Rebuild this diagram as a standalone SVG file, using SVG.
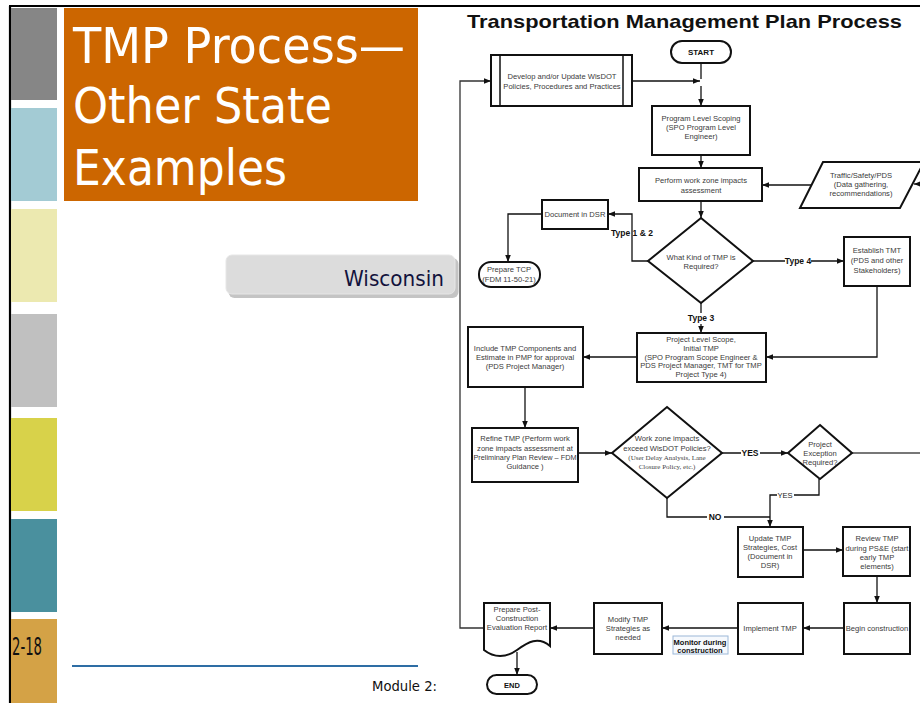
<svg xmlns="http://www.w3.org/2000/svg" width="920" height="703" viewBox="0 0 920 703">
<style>
.bx{fill:#fff;stroke:#111;stroke-width:2}
.t{font-family:"Liberation Sans",Arial,sans-serif;font-size:7.6px;fill:#3a3a3a;text-anchor:middle}
.ts{font-family:"Liberation Serif","Times New Roman",serif;font-size:7px;fill:#444;text-anchor:middle}
.lb{font-family:"Liberation Sans",Arial,sans-serif;font-size:8.5px;font-weight:bold;fill:#111;text-anchor:middle}
.c{fill:none;stroke:#111;stroke-width:1.3}
.ttl{font-family:"DejaVu Sans",Tahoma,sans-serif;font-size:50px;fill:#fff}
</style>
<defs>
<marker id="ah" viewBox="0 0 10 10" refX="10" refY="5" markerWidth="7" markerHeight="7" orient="auto" markerUnits="userSpaceOnUse"><path d="M0,1 L10,5 L0,9 z" fill="#111"/></marker>
</defs>
<rect width="920" height="703" fill="#fff"/>
<g id="frame">
<line x1="9" y1="6" x2="920" y2="6" stroke="#000" stroke-width="2"/>
<line x1="10" y1="6" x2="10" y2="703" stroke="#000" stroke-width="2.2"/>
<rect x="11" y="8" width="46" height="92" fill="#868686"/>
<rect x="11" y="108" width="46" height="93" fill="#a3cbd4"/>
<rect x="11" y="209" width="46" height="93" fill="#ece9b0"/>
<rect x="11" y="314" width="46" height="93" fill="#c0c0c0"/>
<rect x="11" y="418" width="46" height="93" fill="#d8d24a"/>
<rect x="11" y="519" width="46" height="93" fill="#4a909e"/>
<rect x="11" y="619" width="46" height="84" fill="#d4a246"/>
<text x="12" y="655" font-family="'DejaVu Sans Condensed','DejaVu Sans',sans-serif" font-size="24" fill="#111" textLength="30" lengthAdjust="spacingAndGlyphs">2-18</text>
</g>
<g id="title">
<rect x="64" y="8" width="354" height="193" fill="#cc6600"/>
<text class="ttl" x="73" y="63" textLength="332" lengthAdjust="spacingAndGlyphs">TMP Process—</text>
<text class="ttl" x="73" y="123" textLength="259" lengthAdjust="spacingAndGlyphs">Other State</text>
<text class="ttl" x="73" y="185" textLength="214" lengthAdjust="spacingAndGlyphs">Examples</text>
</g>
<g id="wisconsin">
<rect x="228.5" y="258" width="230" height="40" rx="6" fill="#c4c4c4"/>
<rect x="226" y="255" width="229" height="39" rx="6" fill="#dcdcdc" stroke="#e6e6e6"/>
<text x="444" y="286" font-family="'DejaVu Sans',Tahoma,sans-serif" font-size="22" fill="#12123c" text-anchor="end" textLength="100" lengthAdjust="spacingAndGlyphs">Wisconsin</text>
</g>
<g id="footer">
<line x1="72" y1="666" x2="418" y2="666" stroke="#2e6da4" stroke-width="2"/>
<text x="372" y="691" font-family="'DejaVu Sans',Tahoma,sans-serif" font-size="14" fill="#111" textLength="65" lengthAdjust="spacingAndGlyphs">Module 2:</text>
</g>
<text x="467" y="28" font-family="'Liberation Sans',Arial,sans-serif" font-size="19" font-weight="bold" fill="#111" textLength="435" lengthAdjust="spacingAndGlyphs">Transportation Management Plan Process</text>

<g id="connectors">
<path class="c" d="M632,81 H700" marker-end="url(#ah)"/>
<path class="c" d="M701,63 V79"/>
<path class="c" d="M701,86 V106" marker-end="url(#ah)"/>
<path class="c" d="M701,155 V168" marker-end="url(#ah)"/>
<path class="c" d="M925,184 H914" marker-end="url(#ah)"/>
<path class="c" d="M811,185 H762" marker-end="url(#ah)"/>
<path class="c" d="M701,201 V218" marker-end="url(#ah)"/>
<path class="c" d="M648,261 H632 V214 H608" marker-end="url(#ah)"/>
<path class="c" d="M542,214 H508 V262" marker-end="url(#ah)"/>
<path class="c" d="M753,261 H844" marker-end="url(#ah)"/>
<path class="c" d="M701,303 V333" marker-end="url(#ah)"/>
<path class="c" d="M877,286 V357 H766" marker-end="url(#ah)"/>
<path class="c" d="M637,357 H583" marker-end="url(#ah)"/>
<path class="c" d="M525,387 V428" marker-end="url(#ah)"/>
<path class="c" d="M578,453 H612" marker-end="url(#ah)"/>
<path class="c" d="M722,453 H788" marker-end="url(#ah)"/>
<path d="M852,453 H920" fill="none" stroke="#777" stroke-width="1.8"/>
<path class="c" d="M819,479 V495 H770 V527" marker-end="url(#ah)"/>
<path class="c" d="M667,498 V517 H770"/>
<path class="c" d="M803,550 H843" marker-end="url(#ah)"/>
<path class="c" d="M877,576 V603" marker-end="url(#ah)"/>
<path class="c" d="M844,628 H803" marker-end="url(#ah)"/>
<path class="c" d="M738,628 H662" marker-end="url(#ah)"/>
<path class="c" d="M594,628 H550" marker-end="url(#ah)"/>
<path d="M484,628 H460 V81 H491" fill="none" stroke="#333" stroke-width="1.3" marker-end="url(#ah)"/>
<path class="c" d="M517,652 V675" marker-end="url(#ah)"/>
<text class="lb" x="632" y="236">Type 1 &amp; 2</text>
<rect x="785" y="255" width="26" height="11" fill="#fff"/>
<text class="lb" x="798" y="264">Type 4</text>
<rect x="688" y="313" width="26" height="11" fill="#fff"/>
<text class="lb" x="701" y="321">Type 3</text>
<rect x="741" y="447" width="19" height="11" fill="#fff"/>
<text class="lb" x="750" y="456">YES</text>
<rect x="777" y="490" width="17" height="10" fill="#fff"/>
<text class="t" x="785" y="498" style="fill:#222">YES</text>
<rect x="707" y="511" width="17" height="11" fill="#fff"/>
<text class="lb" x="715" y="520">NO</text>
</g>

<g id="start"><rect class="bx" x="671" y="41" width="60" height="22" rx="11"/><text class="lb" x="701" y="55" style="font-size:8px">START</text></g>
<g id="develop"><rect class="bx" x="491" y="55" width="141" height="51"/><line x1="500" y1="55" x2="500" y2="106" stroke="#111" stroke-width="1.5"/><line x1="623" y1="55" x2="623" y2="106" stroke="#111" stroke-width="1.5"/>
<text class="t" x="562" y="79">Develop and/or Update WisDOT</text><text class="t" x="562" y="89">Policies, Procedures and Practices</text></g>
<g id="program"><rect class="bx" x="652" y="106" width="98" height="49"/>
<text class="t" x="701" y="121">Program Level Scoping</text><text class="t" x="701" y="130">(SPO Program Level</text><text class="t" x="701" y="139">Engineer)</text></g>
<g id="perform"><rect class="bx" x="639" y="168" width="123" height="33"/>
<text class="t" x="701" y="183">Perform work zone impacts</text><text class="t" x="701" y="193">assessment</text></g>
<g id="traffic"><path class="bx" d="M823,162 H924 L900,208 H800 Z"/>
<text class="t" x="861" y="178">Traffic/Safety/PDS</text><text class="t" x="861" y="187">(Data gathering,</text><text class="t" x="861" y="196">recommendations)</text></g>
<g id="document"><rect class="bx" x="542" y="200" width="66" height="29"/><text class="t" x="575" y="217">Document in DSR</text></g>
<g id="tcp"><rect class="bx" x="479" y="262" width="61" height="25" rx="12"/>
<text class="t" x="509" y="272">Prepare TCP</text><text class="t" x="509" y="282">(FDM 11-50-21)</text></g>
<g id="kind"><path class="bx" d="M701,218 L753,261 L701,303 L648,261 Z"/>
<text class="t" x="701" y="260">What Kind of TMP is</text><text class="t" x="701" y="269">Required?</text></g>
<g id="establish"><rect class="bx" x="844" y="237" width="66" height="49"/>
<text class="t" x="877" y="253">Establish TMT</text><text class="t" x="877" y="263">(PDS and other</text><text class="t" x="877" y="273">Stakeholders)</text></g>
<g id="project"><rect class="bx" x="637" y="333" width="129" height="49"/>
<text class="t" x="701" y="342">Project Level Scope,</text><text class="t" x="701" y="351">Initial TMP</text><text class="t" x="701" y="360">(SPO Program Scope Engineer &amp;</text><text class="t" x="701" y="368">PDS Project Manager, TMT for TMP</text><text class="t" x="701" y="377">Project Type 4)</text></g>
<g id="include"><rect class="bx" x="468" y="327" width="115" height="60"/>
<text class="t" x="525" y="351">Include TMP Components and</text><text class="t" x="525" y="360">Estimate in PMP for approval</text><text class="t" x="525" y="369">(PDS Project Manager)</text></g>
<g id="refine"><rect class="bx" x="472" y="428" width="106" height="54"/>
<text class="t" x="525" y="441">Refine TMP (Perform work</text><text class="t" x="525" y="451">zone impacts assessment at</text><text class="t" x="525" y="460" style="font-size:7.3px">Preliminary Plan Review – FDM</text><text class="t" x="525" y="469">Guidance )</text></g>
<g id="exceed"><path class="bx" d="M667,407 L722,453 L667,498 L612,453 Z"/>
<text class="t" x="667" y="441">Work zone impacts</text><text class="t" x="667" y="451">exceed WisDOT Policies?</text><text class="ts" x="667" y="460">(User Delay Analysis, Lane</text><text class="ts" x="667" y="469">Closure Policy, etc.)</text></g>
<g id="exception"><path class="bx" d="M820,425 L852,453 L820,479 L788,453 Z"/>
<text class="t" x="820" y="447">Project</text><text class="t" x="820" y="456">Exception</text><text class="t" x="820" y="465">Required?</text></g>
<g id="update"><rect class="bx" x="738" y="527" width="65" height="50"/>
<text class="t" x="770" y="541">Update TMP</text><text class="t" x="770" y="550">Strategies, Cost</text><text class="t" x="770" y="559">(Document in</text><text class="t" x="770" y="568">DSR)</text></g>
<g id="review"><rect class="bx" x="843" y="527" width="67" height="49"/>
<text class="t" x="877" y="541">Review TMP</text><text class="t" x="877" y="551">during PS&amp;E (start</text><text class="t" x="877" y="560">early TMP</text><text class="t" x="877" y="569">elements)</text></g>
<g id="begin"><rect class="bx" x="844" y="603" width="66" height="51"/><text class="t" x="877" y="631">Begin construction</text></g>
<g id="implement"><rect class="bx" x="738" y="603" width="65" height="51"/><text class="t" x="770" y="631">Implement TMP</text></g>
<g id="monitor"><rect x="673" y="636" width="55" height="18" fill="#f6f9fd" stroke="#9cb8d8" stroke-width="1"/>
<text class="lb" x="700" y="644.5" style="font-size:7.5px">Monitor during</text><text class="lb" x="700" y="653" style="font-size:7.5px">construction</text></g>
<g id="modify"><rect class="bx" x="594" y="603" width="68" height="51"/>
<text class="t" x="628" y="622">Modify TMP</text><text class="t" x="628" y="631">Strategies as</text><text class="t" x="628" y="640">needed</text></g>
<g id="prepare"><path class="bx" d="M484,603 H550 V646 C538,636 528,642 517,650 C506,658 494,658 484,650 Z"/>
<text class="t" x="517" y="612">Prepare Post-</text><text class="t" x="517" y="621">Construction</text><text class="t" x="517" y="630">Evaluation Report</text></g>
<g id="end"><rect class="bx" x="487" y="675" width="50" height="19" rx="9.5"/><text class="lb" x="512" y="688" style="font-size:7.5px">END</text></g>
</svg>
